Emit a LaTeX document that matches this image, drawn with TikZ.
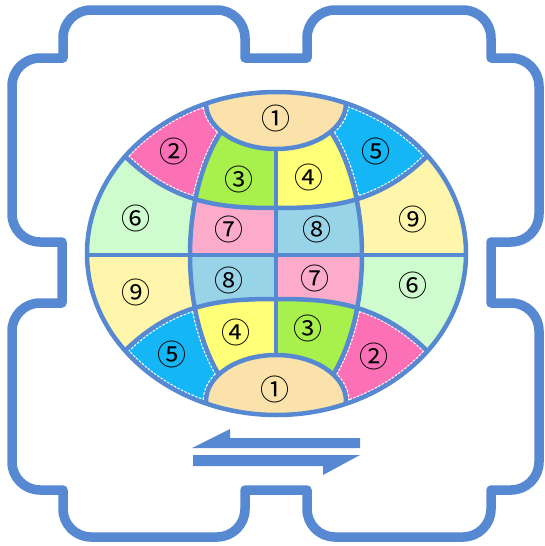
\documentclass[tikz,border=0pt]{standalone}
\usepackage{fontspec}
\newfontfamily\cjk{Noto Sans CJK JP}
\definecolor{cblue}{RGB}{86,137,210}
\definecolor{cone}{RGB}{250,226,170}
\definecolor{ctwo}{RGB}{252,112,182}
\definecolor{cthree}{RGB}{168,240,76}
\definecolor{cfour}{RGB}{255,255,120}
\definecolor{cfive}{RGB}{20,182,245}
\definecolor{csix}{RGB}{206,252,206}
\definecolor{cseven}{RGB}{252,172,202}
\definecolor{ceight}{RGB}{152,212,232}
\definecolor{cnine}{RGB}{255,246,172}
\tikzset{
  frameline/.style={draw=cblue,line width=9.5pt,line join=round},
  gridline/.style={draw=cblue,line width=4.5pt},
  % thin white dashes along the borders of the two-five pieces
  edgedash/.style={draw=white,line width=6.8pt,dash pattern=on 2.5pt off 1.5pt},
  num/.style={font=\cjk\fontsize{29}{29}\selectfont,inner sep=0pt},
  corner/.style={radius=28pt}
}
\newcommand{\globeshape}{(276.5,253.5) ellipse [x radius=189.5pt,y radius=161.5pt]}
\newcommand{\meridians}{(276,255) ellipse [x radius=86pt,y radius=160pt]}
\newcommand{\captop}{(276,103) ellipse [x radius=70pt,y radius=46pt]}
\newcommand{\capbot}{(276,401) ellipse [x radius=70pt,y radius=46pt]}
\newcommand{\latup}{(110,140) .. controls (165,205) and (220,208) .. (276,208) .. controls (332,208) and (387,205) .. (442,140)}
\newcommand{\latdown}{(110,367) .. controls (165,302) and (220,299) .. (276,299) .. controls (332,299) and (387,302) .. (442,367)}
\begin{document}
\begin{tikzpicture}[x=1pt,y=-1pt]
  \useasboundingbox (0,0) rectangle (545,546);
  \draw[frameline] (63,58) -- (63,38) arc[start angle=180,end angle=90,corner] -- (217,10) arc[start angle=90,end angle=0,corner]
    -- (245,58) -- (307,58) -- (307,38) arc[start angle=180,end angle=90,corner] -- (463,10) arc[start angle=90,end angle=0,corner]
    -- (491,58) -- (511,58) arc[start angle=90,end angle=0,corner] -- (539,214) arc[start angle=0,end angle=-90,corner]
    -- (491,242) -- (491,303) -- (511,303) arc[start angle=90,end angle=0,corner] -- (539,462) arc[start angle=0,end angle=-90,corner]
    -- (491,490) -- (491,509) arc[start angle=0,end angle=-90,corner] -- (335,537) arc[start angle=270,end angle=180,corner]
    -- (307,490) -- (245,490) -- (245,509) arc[start angle=0,end angle=-90,corner] -- (91,537) arc[start angle=270,end angle=180,corner]
    -- (63,490) -- (40,490) arc[start angle=270,end angle=180,corner] -- (12,331) arc[start angle=180,end angle=90,corner]
    -- (62,303) -- (62,242) -- (40,242) arc[start angle=270,end angle=180,corner] -- (12,86) arc[start angle=180,end angle=90,corner] -- cycle;
  \begin{scope}
    \clip \globeshape;
    \fill[csix] (80,80) rectangle (276,255);
    \fill[cnine] (276,80) rectangle (470,255);
    \fill[cnine] (80,255) rectangle (276,420);
    \fill[csix] (276,255) rectangle (470,420);
    \begin{scope}
      \clip \meridians;
      \fill[cseven] (180,80) rectangle (276,255);
      \fill[ceight] (276,80) rectangle (370,255);
      \fill[ceight] (180,255) rectangle (276,420);
      \fill[cseven] (276,255) rectangle (370,420);
    \end{scope}
    \begin{scope}
      \clip \latup -- (442,60) -- (110,60) -- cycle;
      \fill[ctwo] (80,60) rectangle (276,215);
      \fill[cfive] (276,60) rectangle (470,215);
      \draw[edgedash] \globeshape \meridians \captop \latup;
      \clip \meridians;
      \fill[cthree] (180,60) rectangle (276,215);
      \fill[cfour] (276,60) rectangle (370,215);
    \end{scope}
    \begin{scope}
      \clip \latdown -- (442,450) -- (110,450) -- cycle;
      \fill[cfive] (80,290) rectangle (276,450);
      \fill[ctwo] (276,290) rectangle (470,450);
      \draw[edgedash] \globeshape \meridians \capbot \latdown;
      \clip \meridians;
      \fill[cfour] (180,290) rectangle (276,450);
      \fill[cthree] (276,290) rectangle (370,450);
    \end{scope}
    \draw[gridline] (80,255) -- (475,255);
    \draw[gridline] (276,100) -- (276,410);
    \draw[gridline] \meridians;
    \draw[gridline] \latup;
    \draw[gridline] \latdown;
    \filldraw[gridline,fill=cone] \captop;
    \filldraw[gridline,fill=cone] \capbot;
  \end{scope}
  \draw[gridline] \globeshape;

  \node[num] (one-t) at (275.6,118) {①};
  \node[num] (two-t) at (174,151) {②};
  \node[num] (three-t) at (239,179) {③};
  \node[num] (four-t) at (309,177) {④};
  \node[num] (five-t) at (376,151) {⑤};
  \node[num] (six-t) at (135.5,218) {⑥};
  \node[num] (seven-t) at (229,229) {⑦};
  \node[num] (eight-t) at (317,229) {⑧};
  \node[num] (nine-t) at (413,219) {⑨};
  \node[num] (nine-b) at (135.5,292) {⑨};
  \node[num] (eight-b) at (229,280) {⑧};
  \node[num] (seven-b) at (314.6,278) {⑦};
  \node[num] (six-b) at (413,285) {⑥};
  \node[num] (five-b) at (172,354.5) {⑤};
  \node[num] (four-b) at (235.7,332) {④};
  \node[num] (three-b) at (307.6,328.5) {③};
  \node[num] (two-b) at (373.6,356) {②};
  \node[num] (one-b) at (274.6,389) {①};

  \fill[cblue] (192,448) -- (230,429) -- (230,438) -- (360,438) -- (360,448) -- cycle;
  \fill[cblue] (193,455) -- (360,455) -- (323,475) -- (323,466) -- (193,466) -- cycle;
\end{tikzpicture}
\end{document}
